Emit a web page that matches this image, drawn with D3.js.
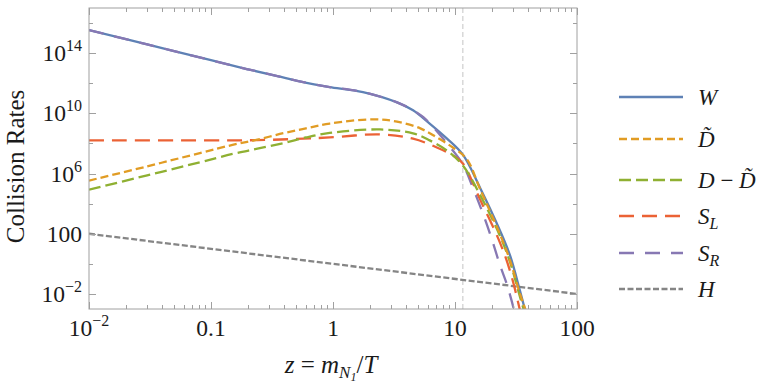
<!DOCTYPE html>
<html>
<head>
<meta charset="utf-8">
<script src="https://cdn.jsdelivr.net/npm/d3@7"></script>
<style>
  body { margin: 0; background: #fff; }
  svg { font-family: "Liberation Serif", "DejaVu Serif", serif; }
</style>
</head>
<body>
<div class="chart"></div>
<script>
// data (z, rate)
const zW    = [0.01, 0.03, 0.1, 0.2, 0.35, 0.5, 0.7, 0.94, 1.76, 3.35, 4.53, 6.2, 8.6, 11.6, 16, 23.4, 28.3, 34.1, 37.5, 42];
const rateW = [3.4e15, 3.8e14, 3.4e13, 8.5e12, 3e12, 1.5e12, 8.5e11, 5.6e11, 2.6e11, 5.4e10, 1.6e10, 2.1e9, 2.1e8, 1.8e7, 1.2e5, 160, 3.5, 0.016, 8e-4, 1e-5];

const zDt    = [0.01, 0.03, 0.081, 0.15, 0.24, 0.4, 0.6, 0.94, 2.13, 3.35, 5.2, 7.1, 9.6, 12.5, 16, 23.4, 28.3, 34.1, 38, 42];
const rateDt = [3.4e5, 3e6, 2.3e7, 8e7, 1.8e8, 5e8, 1e9, 2.1e9, 4e9, 2.8e9, 1e9, 2.5e8, 5.4e7, 9e6, 1e5, 90, 1.6, 0.01, 7.4e-4, 1e-5];

const zDD    = [0.01, 0.03, 0.081, 0.15, 0.24, 0.4, 0.6, 0.94, 2.43, 4.53, 6.2, 8.6, 11.6, 16, 23.4, 28.3, 34.1, 38];
const rateDD = [8.5e4, 7.6e5, 5.6e6, 2e7, 4.5e7, 1.1e8, 2.5e8, 5e8, 8.5e8, 4.7e8, 1.6e8, 3.4e7, 3.4e6, 4e4, 70, 1.26, 6.3e-3, 3.2e-4];

const zSL    = [0.01, 0.1, 0.24, 0.5, 0.94, 2.43, 4.53, 7.1, 9.6, 11.6, 16, 23.4, 28.3, 34.1, 37];
const rateSL = [1.6e8, 1.6e8, 1.66e8, 2e8, 2.5e8, 4e8, 2.1e8, 5.4e7, 1.6e7, 4.7e6, 2e4, 25, 0.32, 8e-4, 3e-5];

const zSR    = [0.01, 0.03, 0.1, 0.2, 0.35, 0.5, 0.7, 0.94, 1.76, 3.35, 4.53, 5.5, 6.6, 8.6, 11.6, 14.1, 17, 20.1, 23.4, 26.7, 30.5, 33];
const rateSR = [3.4e15, 3.8e14, 3.4e13, 8.5e12, 3e12, 1.5e12, 8.5e11, 5.6e11, 2.6e11, 5.4e10, 1.6e10, 5.6e9, 1.26e9, 1e8, 4e6, 1e5, 2e3, 40, 0.8, 0.04, 8e-4, 3e-5];

const zH    = [0.01, 100];
const rateH = [100, 0.01];

const seriesNames  = ['W', 'Dt', 'DD', 'SL', 'SR', 'H'];
const seriesColors = ['#5E81B5', '#E19C24', '#8FB032', '#EB6235', '#8778B3', '#858585'];
const seriesDash   = [null, '8,4', '12,5', '15,8', '15,11', '6,2.5'];

const xTicks = [0.01, 0.1, 1, 10, 100];
const xTickLabels = [['10', '\u22122'], ['0.1'], ['1'], ['10'], ['100']];
const yTicks = [1e-2, 1e2, 1e6, 1e10, 1e14];
const yTickLabels = [['10', '\u22122'], ['100'], ['10', '6'], ['10', '10'], ['10', '14']];
const zMark = 11.6;

const margin = ({top: 8, right: 186, bottom: 83, left: 89});
const width = 763 - margin.left - margin.right;
const height = 392 - margin.top - margin.bottom;

const svg = d3.select('.chart')
  .append('svg')
  .attr('width', 763)
  .attr('height', 392);

const g = svg.append('g')
  .attr('transform', 'translate(' + margin.left + ',' + margin.top + ')');

const xScale = d3.scaleLog()
  .domain([0.01, 100])
  .range([0, width]);

const yScale = d3.scaleLog()
  .domain([1e-3, 1e17])
  .range([height, 0]);

g.append('clipPath').attr('id', 'clip')
  .append('rect').attr('width', width).attr('height', height);

// vertical marker
g.append('line')
  .attr('x1', xScale(zMark)).attr('x2', xScale(zMark))
  .attr('y1', 0).attr('y2', height)
  .attr('stroke', '#c4c4c4').attr('stroke-width', 1)
  .attr('stroke-dasharray', '5,3');

const line = d3.line()
  .x(d => xScale(d[0]))
  .y(d => yScale(d[1]))
  .curve(d3.curveCatmullRom.alpha(0.5));

const allData = [
  d3.zip(zW, rateW), d3.zip(zDt, rateDt), d3.zip(zDD, rateDD),
  d3.zip(zSL, rateSL), d3.zip(zSR, rateSR), d3.zip(zH, rateH)
];

// draw order: H, W, SR, SL, D-D~, D~
const order = [5, 0, 4, 3, 2, 1];
const plot = g.append('g').attr('clip-path', 'url(#clip)');
order.forEach(i => {
  plot.append('path')
    .attr('d', line(allData[i]))
    .attr('fill', 'none')
    .attr('stroke', seriesColors[i])
    .attr('stroke-width', 2.3)
    .attr('stroke-dasharray', seriesDash[i]);
});

// frame
g.append('rect')
  .attr('width', width).attr('height', height)
  .attr('fill', 'none').attr('stroke', '#a0a0a0').attr('stroke-width', 1);

// ticks
const xMinor = [];
for (let e = -2; e < 2; e++) for (let k = 2; k < 10; k++) xMinor.push(k * Math.pow(10, e));
const yMinor = [1e-2, 1, 1e2, 1e4, 1e6, 1e8, 1e10, 1e12, 1e14, 1e16];

const tickG = g.append('g').attr('stroke', '#a0a0a0').attr('stroke-width', 1);
xTicks.concat(xMinor).forEach(v => {
  const len = xTicks.includes(v) ? 7 : 4;
  const x = Math.round(xScale(v)) + 0.5;
  tickG.append('line').attr('x1', x).attr('x2', x).attr('y1', height).attr('y2', height - len);
  tickG.append('line').attr('x1', x).attr('x2', x).attr('y1', 0).attr('y2', len);
});
yMinor.forEach(v => {
  const len = yTicks.includes(v) ? 7 : 4;
  const y = Math.round(yScale(v)) + 0.5;
  tickG.append('line').attr('x1', 0).attr('x2', len).attr('y1', y).attr('y2', y);
  tickG.append('line').attr('x1', width).attr('x2', width - len).attr('y1', y).attr('y2', y);
});

// tick labels
xTicks.forEach((v, i) => {
  const t = g.append('text')
    .attr('x', xScale(v))
    .attr('y', height + 27)
    .attr('text-anchor', 'middle')
    .attr('font-size', 23.5)
    .attr('fill', '#1a1a1a');
  t.append('tspan').text(xTickLabels[i][0]);
  if (xTickLabels[i][1]) t.append('tspan').attr('dy', -10).attr('font-size', 16).text(xTickLabels[i][1]);
});
yTicks.forEach((v, i) => {
  const t = g.append('text')
    .attr('x', -7)
    .attr('y', yScale(v) + 8)
    .attr('text-anchor', 'end')
    .attr('font-size', 23.5)
    .attr('fill', '#1a1a1a');
  t.append('tspan').text(yTickLabels[i][0]);
  if (yTickLabels[i][1]) t.append('tspan').attr('dy', -10).attr('font-size', 16).text(yTickLabels[i][1]);
});

// axis titles
svg.append('text')
  .attr('transform', 'translate(24,' + (margin.top + height / 2 + 8) + ') rotate(-90)')
  .attr('text-anchor', 'middle')
  .attr('font-size', 25)
  .attr('fill', '#1a1a1a')
  .text('Collision Rates');

const xl = svg.append('text')
  .attr('x', 331).attr('y', 373)
  .attr('text-anchor', 'middle')
  .attr('font-size', 25)
  .attr('fill', '#1a1a1a');
xl.append('tspan').attr('font-style', 'italic').text('z');
xl.append('tspan').text(' = ');
xl.append('tspan').attr('font-style', 'italic').text('m');
xl.append('tspan').attr('font-style', 'italic').attr('font-size', 17).attr('dy', 5).text('N');
xl.append('tspan').attr('font-style', 'italic').attr('font-size', 12).attr('dy', 3).text('1');
xl.append('tspan').attr('dy', -8).text('/');
xl.append('tspan').attr('font-style', 'italic').text('T');

// legend
const legendY = [97, 139, 180, 216, 253, 289];
const legend = svg.append('g');
seriesNames.forEach((name, i) => {
  legend.append('line')
    .attr('x1', 619).attr('x2', 683)
    .attr('y1', legendY[i]).attr('y2', legendY[i])
    .attr('stroke', seriesColors[i])
    .attr('stroke-width', 2.3)
    .attr('stroke-dasharray', seriesDash[i]);
  const t = legend.append('text')
    .attr('x', 698).attr('y', legendY[i] + 8)
    .attr('font-size', 23)
    .attr('font-style', 'italic')
    .attr('fill', '#1a1a1a');
  if (name === 'W') t.text('W');
  if (name === 'Dt') t.text('D\u0303');
  if (name === 'DD') { t.append('tspan').text('D'); t.append('tspan').attr('font-style', 'normal').text(' \u2212 '); t.append('tspan').text('D\u0303'); }
  if (name === 'SL') { t.append('tspan').text('S'); t.append('tspan').attr('font-size', 16).attr('dy', 5).text('L'); }
  if (name === 'SR') { t.append('tspan').text('S'); t.append('tspan').attr('font-size', 16).attr('dy', 5).text('R'); }
  if (name === 'H') t.text('H');
});
</script>
</body>
</html>
